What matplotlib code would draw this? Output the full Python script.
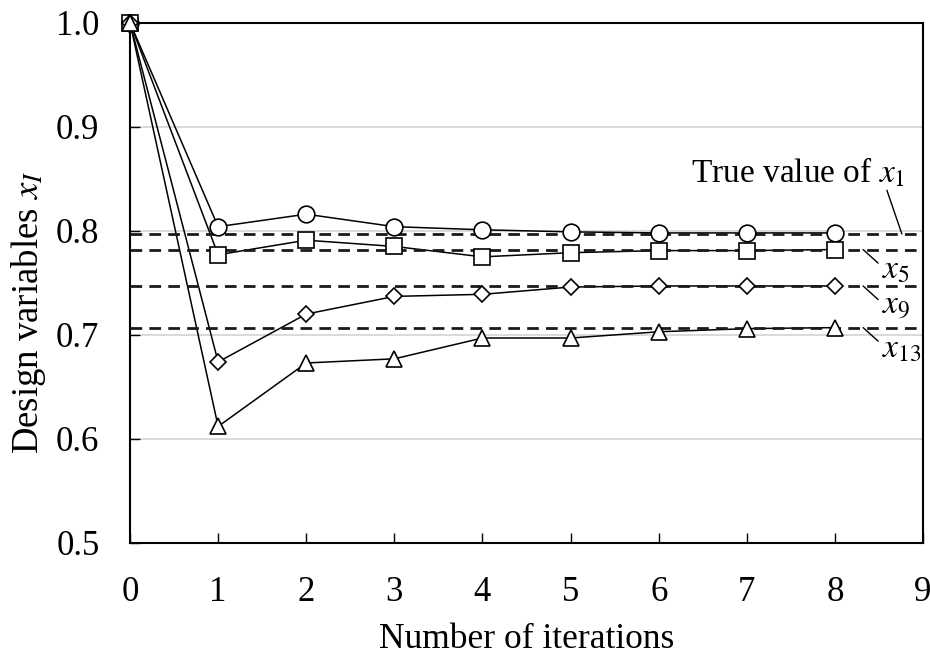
import matplotlib
matplotlib.use('Agg')
import matplotlib.pyplot as plt
import numpy as np

plt.rcParams['font.family'] = ['Liberation Serif', 'DejaVu Serif']
plt.rcParams['mathtext.fontset'] = 'stix'

iterations = [0, 1, 2, 3, 4, 5, 6, 7, 8]

x1 = [1.0, 0.804, 0.816, 0.804, 0.801, 0.799, 0.798, 0.798, 0.798]
x5 = [1.0, 0.777, 0.791, 0.785, 0.775, 0.779, 0.781, 0.781, 0.782]
x9 = [1.0, 0.674, 0.720, 0.737, 0.739, 0.746, 0.747, 0.747, 0.747]
x13 = [1.0, 0.612, 0.673, 0.677, 0.697, 0.697, 0.703, 0.706, 0.707]

true_values = [0.797, 0.782, 0.747, 0.707]

series = [(x1, 'o', 12), (x5, 's', 11), (x9, 'D', 8), (x13, '^', 11)]

fig = plt.figure(figsize=(9.3, 6.55), dpi=100)
ax = fig.add_axes([0.1398, 0.171, 0.8527, 0.7943])

# connecting lines under the dashed reference lines, markers on top
for ys, marker, size in series:
    ax.plot(iterations, ys, color='black', lw=1.1, zorder=2)
for tv in true_values:
    ax.axhline(tv, color='#1a1a1a', lw=2.0, dashes=(4.2, 2.6), zorder=3)
for ys, marker, size in series:
    ax.plot(iterations, ys, linestyle='none', marker=marker, ms=size,
            mfc='white', mec='black', mew=1.2, zorder=4, clip_on=False)

ax.set_xlim(0, 9)
ax.set_ylim(0.5, 1.0)
ax.set_xticks(range(10))
ax.set_yticks(np.arange(0.5, 1.01, 0.1))
ax.set_yticklabels(['0.5', '0.6', '0.7', '0.8', '0.9', '1.0'])
ax.grid(axis='y', color='#d9d9d9', lw=1.4, zorder=0)
ax.set_axisbelow(True)

ax.tick_params(direction='in', length=7, width=1.0, labelsize=25, pad=22)
ax.tick_params(axis='x', pad=24)
for sp in ax.spines.values():
    sp.set_linewidth(1.5)

ax.set_xlabel('Number of iterations', fontsize=25.5, labelpad=10)
ax.set_ylabel('Design variables $x_I$', fontsize=26.5)
ax.yaxis.set_label_coords(-0.104, 0.444)

# labels for the reference lines
lead = dict(arrowstyle='-', color='black', lw=1.0, shrinkA=0, shrinkB=0)
ax.text(8.80, 0.856, 'True value of $x_1$', ha='right', va='center', fontsize=24)
ax.annotate('', xy=(8.76, true_values[0]), xytext=(8.59, 0.839), arrowprops=lead)
for tv, name, ty in [(true_values[1], '$x_5$', 0.762),
                     (true_values[2], '$x_9$', 0.727),
                     (true_values[3], '$x_{13}$', 0.686)]:
    ax.annotate('', xy=(8.32, tv), xytext=(8.49, tv - 0.013), arrowprops=lead)
    ax.text(8.53, ty, name, fontsize=24, ha='left', va='center')

fig.savefig('out.png', dpi=100)
